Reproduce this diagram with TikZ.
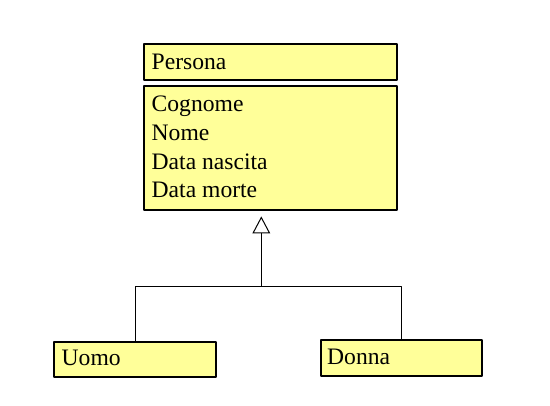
\documentclass[tikz,border=0pt]{standalone}
\usepackage{fontspec}
\setmainfont{Liberation Serif}
\usepackage{xcolor}
\usepackage{tikz}
\usetikzlibrary{arrows.meta}
\definecolor{classfill}{HTML}{FFFF99}

\begin{document}
\begin{tikzpicture}[line cap=round,line join=round,x=1pt,y=-1pt,
	classbox/.style={draw,line width=2pt,fill=classfill,rectangle,inner sep=0pt,anchor=north west},
	classtext/.style={anchor=base west,inner sep=0pt,font=\fontsize{23.6}{28}\selectfont}]
			\useasboundingbox (0,0) rectangle (550,406);
			% class boxes
			\node [classbox,minimum width=253pt,minimum height=35.5pt] (persona) at (143.2,43.2) {};
			\node [classbox,minimum width=253pt,minimum height=124pt] (attrs) at (143.2,85) {};
			\node [classbox,minimum width=161.3pt,minimum height=35.7pt] (uomo) at (53.4,340.7) {};
			\node [classbox,minimum width=161.3pt,minimum height=36pt] (donna) at (319.7,339.4) {};
			% texts
			\node [classtext] (tpersona) at (151.5,69.3) {Persona};
			\node [classtext] (tcognome) at (151.5,111.7) {Cognome};
			\node [classtext] (tnome) at (151.5,141) {Nome};
			\node [classtext] (tnascita) at (151.5,169.3) {Data nascita};
			\node [classtext] (tmorte) at (151.5,197.7) {Data morte};
			\node [classtext] (tuomo) at (61.5,365.7) {Uomo};
			\node [classtext] (tdonna) at (327,365) {Donna};
			% generalization
			\coordinate (join) at (261.3,286.3);
			\draw [line width=1pt] (uomo.north) |- (join) -| (donna.north);
			\draw [line width=1pt,shorten >=5.4pt,-{Triangle[open,length=17pt,width=17.7pt,line width=1pt,fill=white]}] (join) -- (join |- attrs.south);
\end{tikzpicture}
\end{document}
